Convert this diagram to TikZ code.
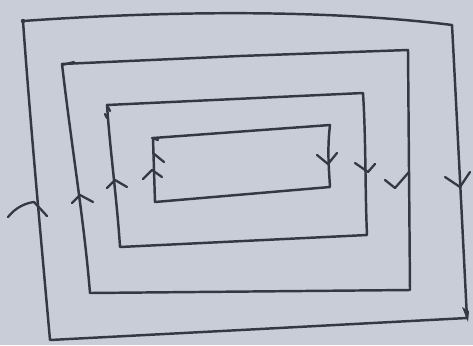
\documentclass[tikz,border=0pt]{standalone}
\usetikzlibrary{calc}
\definecolor{paper}{RGB}{201,205,215}
\definecolor{ink}{RGB}{52,56,68}
\begin{document}
\begin{tikzpicture}[x=0.02cm,y=-0.02cm,
  stroke/.style={draw=ink,line width=1.4pt,line cap=round,line join=round},
  tick/.style={draw=ink,line width=1.3pt,line cap=round,line join=round}]
\fill[paper] (0,0) rectangle (473,345);
\useasboundingbox (0,0) rectangle (473,345);
% outer rectangle
\draw[stroke] (23,21) .. controls (120,14) and (300,6) .. (452,25)
  .. controls (456,100) and (462,220) .. (467,318)
  -- (260,329) -- (50,340)
  .. controls (42,250) and (30,120) .. cycle;
% second rectangle
\draw[stroke] (62,64) -- (240,56) -- (408,50) -- (409,170) -- (410,290)
  -- (90,293) .. controls (84,220) and (72,150) .. cycle;
% third rectangle
\draw[stroke] (107,105) -- (363,93) .. controls (366,140) and (365,190) .. (367,235)
  -- (120,247) .. controls (117,200) and (110,150) .. cycle;
% inner rectangle
\draw[stroke] (153,138) -- (330,125) .. controls (327,150) and (329,170) .. (330,187)
  -- (155,202) -- cycle;
% corner marks
\fill[ink] (23,21) circle (2.2);
\draw[tick] (62,65) -- (74,62);
\draw[tick] (107,105) -- (110,111);
\draw[tick] (105,114) -- (107,118);
\draw[tick] (152,138) -- (158,140);
\fill[ink] (462,307) -- (469,311) -- (468,322) -- cycle;
% up arrows on left sides
\draw[tick] (8,217) .. controls (16,207) and (26,203) .. (34,202) -- (47,216);
\draw[tick] (72,203) -- (80,195) -- (93,202);
\draw[tick] (107,188) -- (115,180) -- (127,187);
\draw[tick] (143,179) -- (152,170) -- (162,177);
\draw[tick] (153,153) -- (164,162);
% down arrows on right sides
\draw[tick] (317,155) -- (328,164) -- (337,153);
\draw[tick] (355,163) -- (368,172) -- (375,164);
\draw[tick] (385,180) -- (395,188) -- (409,172);
\draw[tick] (445,177) -- (460,187) -- (470,172);
\end{tikzpicture}
\end{document}
